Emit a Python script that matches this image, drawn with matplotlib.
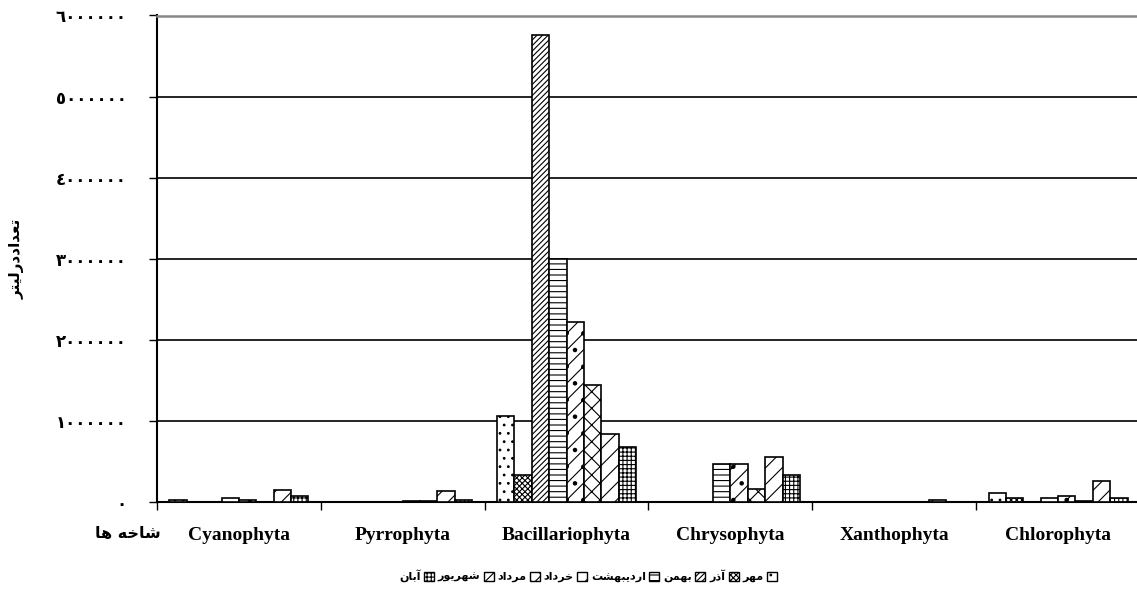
import numpy as np
import matplotlib.pyplot as plt
from matplotlib.patches import Patch
from matplotlib.ticker import FixedLocator, FuncFormatter


# presentation forms: (isolated, final, initial, medial)
FORMS = {
    'ا': ('\uFE8D', '\uFE8E', None, None),
    'آ': ('\uFE81', '\uFE82', None, None),
    'ب': ('\uFE8F', '\uFE90', '\uFE91', '\uFE92'),
    'ت': ('\uFE95', '\uFE96', '\uFE97', '\uFE98'),
    'خ': ('\uFEA5', '\uFEA6', '\uFEA7', '\uFEA8'),
    'د': ('\uFEA9', '\uFEAA', None, None),
    'ذ': ('\uFEAB', '\uFEAC', None, None),
    'ر': ('\uFEAD', '\uFEAE', None, None),
    'ش': ('\uFEB5', '\uFEB6', '\uFEB7', '\uFEB8'),
    'ع': ('\uFEC9', '\uFECA', '\uFECB', '\uFECC'),
    'ل': ('\uFEDD', '\uFEDE', '\uFEDF', '\uFEE0'),
    'م': ('\uFEE1', '\uFEE2', '\uFEE3', '\uFEE4'),
    'ن': ('\uFEE5', '\uFEE6', '\uFEE7', '\uFEE8'),
    'ه': ('\uFEE9', '\uFEEA', '\uFEEB', '\uFEEC'),
    'و': ('\uFEED', '\uFEEE', None, None),
    'ی': ('\uFBFC', '\uFBFD', '\uFEF3', '\uFEF4'),
}


def fa(text):
    # join letters and flip to visual order (no bidi support in matplotlib)
    out = []
    for i, c in enumerate(text):
        if c not in FORMS:
            out.append(c)
            continue
        prev = text[i - 1] if i > 0 else ''
        nxt = text[i + 1] if i + 1 < len(text) else ''
        join_prev = prev in FORMS and FORMS[prev][2] is not None
        join_next = FORMS[c][2] is not None and nxt in FORMS
        iso, fin, ini, med = FORMS[c]
        if join_prev and join_next:
            out.append(med)
        elif join_prev:
            out.append(fin)
        elif join_next:
            out.append(ini)
        else:
            out.append(iso)
    return ''.join(out)[::-1]


def fa_digits(v):
    return str(int(v)).translate(str.maketrans('0123456789', '٠١٢٣٤٥٦٧٨٩'))


phyla = ['Cyanophyta', 'Pyrrophyta', 'Bacillariophyta', 'Chrysophyta', 'Xanthophyta', 'Chlorophyta']
months = ['مهر', 'آذر', 'بهمن', 'اردیبهشت', 'خرداد', 'مرداد', 'شهریور', 'آبان']

# cells per litre, one list per month, phyla in the order above
mehr = [20000, 0, 1060000, 0, 0, 105000]
azar = [0, 0, 330000, 0, 0, 50000]
bahman = [0, 0, 5760000, 0, 0, 0]
ordibehesht = [55000, 0, 3000000, 468000, 0, 45000]
khordad = [30000, 12000, 2220000, 468000, 0, 70000]
mordad = [0, 12000, 1440000, 160000, 0, 12000]
shahrivar = [150000, 130000, 837000, 554000, 20000, 260000]
aban = [80000, 30000, 677000, 333000, 0, 50000]

series = [mehr, azar, bahman, ordibehesht, khordad, mordad, shahrivar, aban]
hatches = ['..', 'xxxxxx', '//////', '---', '//.', 'xx', '//', '++++']

plt.rcParams['font.family'] = ['Liberation Serif', 'DejaVu Sans']
plt.rcParams['font.weight'] = 'bold'
plt.rcParams['hatch.linewidth'] = 0.8

fig = plt.figure(figsize=(11.37, 5.96), dpi=100)
ax = fig.add_axes([157 / 1137, 94 / 596, 983 / 1137, 486.5 / 596])

x = np.arange(len(phyla))
w = 0.106
for i, vals in enumerate(series):
    ax.bar(x + (i - 3.5) * w, vals, width=w, facecolor='white', edgecolor='black',
           hatch=hatches[i], linewidth=1.2, zorder=3)

ax.set_xlim(-0.5, 5.5)
ax.set_ylim(0, 6000000)
ax.set_yticks(np.arange(0, 6000001, 1000000))
ax.yaxis.set_major_formatter(FuncFormatter(lambda v, p: fa_digits(v)))
ax.tick_params(axis='y', labelsize=12, length=6, width=1, direction='out', pad=16)
for lbl in ax.get_yticklabels():
    lbl.set_fontfamily(['DejaVu Sans'])

ax.set_xticks(x)
ax.set_xticklabels(phyla, fontsize=14, fontweight='bold')
ax.tick_params(axis='x', length=0, pad=18)
ax.xaxis.set_minor_locator(FixedLocator(np.arange(-0.5, 6, 1)))
ax.tick_params(axis='x', which='minor', length=6, width=1, direction='out')

ax.yaxis.grid(True, color='black', linewidth=1.2)
ax.set_axisbelow(True)
for s in ['left', 'bottom']:
    ax.spines[s].set_linewidth(1.5)
ax.spines['right'].set_visible(False)
ax.spines['top'].set_color('#888888')
ax.spines['top'].set_linewidth(1.8)

ax.set_ylabel(fa('تعداددرلیتر'), fontsize=11, fontweight='bold', family=['DejaVu Sans'], labelpad=22)
ax.text(-0.48, -0.065, fa('شاخه ها'), transform=ax.get_xaxis_transform(), ha='right', va='center',
        fontsize=11.5, fontweight='bold', family=['DejaVu Sans'])

handles = [Patch(facecolor='white', edgecolor='black', hatch=h, label=fa(m))
           for m, h in zip(months, hatches)][::-1]
leg = fig.legend(handles=handles, loc='center', bbox_to_anchor=(588 / 1137, 1 - 576 / 596), ncol=8,
                 frameon=False, markerfirst=False, handlelength=0.9, handleheight=0.9,
                 handletextpad=0.3, columnspacing=0.35,
                 prop={'family': ['DejaVu Sans'], 'weight': 'bold', 'size': 8})

fig.savefig('out.png', dpi=100)
